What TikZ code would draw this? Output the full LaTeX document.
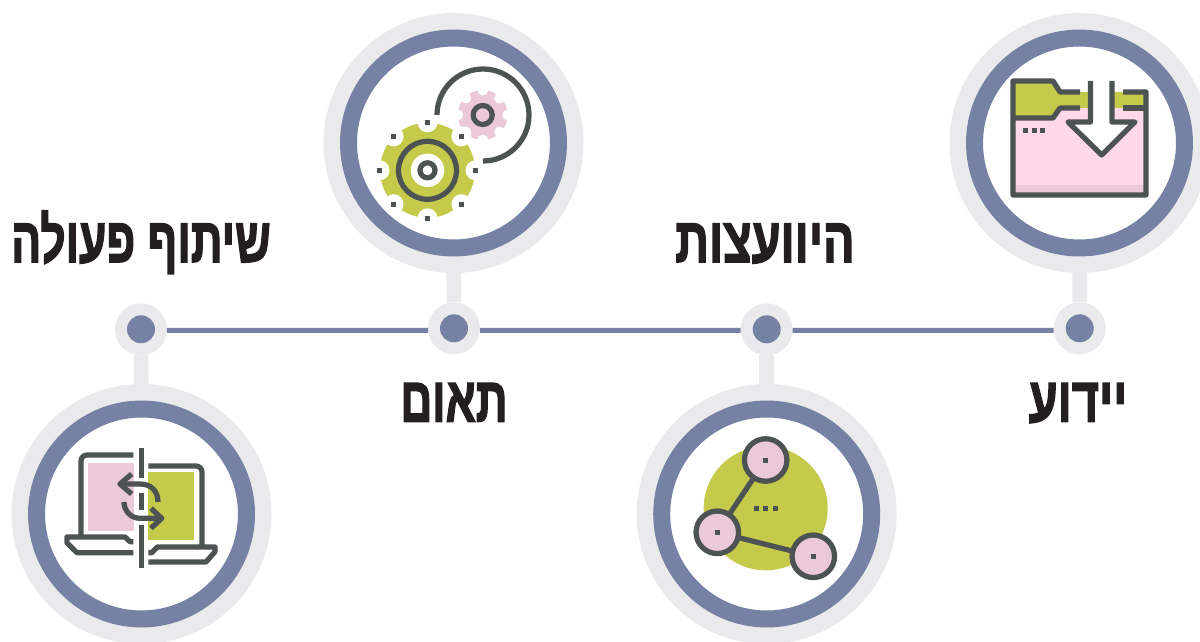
\documentclass[tikz,border=0pt]{standalone}
\usepackage{fontspec}
\usetikzlibrary{positioning}
\newfontfamily\hebfont[Script=Hebrew,FakeBold=2.5]{Liberation Sans Bold}
\TeXXeTstate=1
\definecolor{ringgray}{HTML}{EAEAEC}
\definecolor{ringblue}{HTML}{7582A3}
\definecolor{iconink}{HTML}{4D5353}
\definecolor{iconolive}{HTML}{C5CA4A}
\definecolor{iconpink}{HTML}{ECC9D8}
\definecolor{folderpink}{HTML}{FFD9EA}
\definecolor{labelink}{HTML}{231F20}
\tikzset{
  ringout/.style={circle,fill=ringgray,outer sep=0,inner sep=0,minimum size=5.2cm},
  ringin/.style={circle,fill=white,draw=ringblue,line width=0.34cm,outer sep=0,inner sep=0,minimum size=4.2cm},
  hubout/.style={circle,fill=ringgray,outer sep=0,inner sep=0,minimum size=1.04cm},
  hubin/.style={circle,fill=ringblue,outer sep=0,inner sep=0,minimum size=0.56cm},
  stem/.style={ringgray,line width=0.295cm},
  spine/.style={ringblue,line width=0.1cm},
  iconline/.style={iconink,line width=0.105cm,line join=round},
  peer/.style={circle,fill=iconpink,draw=iconink,line width=0.105cm,outer sep=0,inner sep=0,minimum size=0.85cm},
  steplabel/.style={text=labelink,anchor=base,transform shape,font=\hebfont\fontsize{36}{38}\selectfont},
}
\begin{document}
\begin{tikzpicture}[x=0.02cm,y=-0.02cm]
\useasboundingbox (0,0) rectangle (1200,642);
\clip (0,0) rectangle (1200,642);

% rings and hubs
\node[ringout] (informOut) at (1079.5,143) {};
\node[ringout] (syncOut) at (453.5,143) {};
\node[ringout] (consultOut) at (766.7,514) {};
\node[ringout] (shareOut) at (141.5,514) {};
\node[hubout] (informHub) at (1079.7,328.3) {};
\node[hubout] (syncHub) at (454,328.3) {};
\node[hubout] (consultHub) at (766.7,329.3) {};
\node[hubout] (shareHub) at (141,329.3) {};
\draw[stem] (informOut) -- (informHub);
\draw[stem] (syncOut) -- (syncHub);
\draw[stem] (consultOut) -- (consultHub);
\draw[stem] (shareOut) -- (shareHub);
\draw[spine] ([yshift=-0.04cm]informHub.west) -- ([yshift=-0.02cm]consultHub.east);
\draw[spine] ([yshift=-0.02cm]consultHub.west) -- ([yshift=-0.04cm]syncHub.east);
\draw[spine] ([yshift=-0.04cm]syncHub.west) -- ([yshift=-0.02cm]shareHub.east);
\node[hubin] (informDot) at (informHub) {};
\node[hubin] (syncDot) at (syncHub) {};
\node[hubin] (consultDot) at (consultHub) {};
\node[hubin] (shareDot) at (shareHub) {};
\node[ringin] (informIn) at (informOut) {};
\node[ringin] (syncIn) at (syncOut) {};
\node[ringin] (consultIn) at (consultOut) {};
\node[ringin] (shareIn) at (shareOut) {};

% labels
\node[steplabel,xscale=0.70] (shareText) at (141,262) {\beginR שיתוף פעולה\endR};
\node[steplabel,xscale=0.74] (consultText) at (765,262) {\beginR היוועצות\endR};
\node[steplabel,xscale=0.70] (syncText) at (454,421.5) {\beginR תאום\endR};
\node[steplabel,xscale=0.74] (informText) at (1078,421.5) {\beginR יידוע\endR};

% folder
\fill[folderpink] (1013,117) -- (1053,117) -- (1060,108) -- (1146,108) -- (1146,195) -- (1013,195) -- cycle;
\fill[iconpink] (1013,185) rectangle (1146,195);
\fill[iconolive] (1013,81) -- (1053,81) -- (1060,92) -- (1146,92) -- (1146,108) -- (1060,108) -- (1053,118) -- (1013,118) -- cycle;
\fill[white] (1090.5,80) -- (1090.5,122) -- (1068,122) -- (1101.7,155) -- (1135,122) -- (1112,122) -- (1112,80) -- cycle;
\draw[iconline] (1080,92) -- (1060,92) -- (1053,81) -- (1013,81) -- (1013,195) -- (1146,195) -- (1146,92) -- (1123,92);
\draw[iconline] (1080,108) -- (1060,108) -- (1053,118) -- (1013,118);
\draw[iconline] (1123,108) -- (1146,108);
\draw[iconline] (1090.5,81) -- (1090.5,122) -- (1068,122) -- (1101.7,155) -- (1135,122) -- (1112,122) -- (1112,81);
\fill[iconink] (1023,127.7) rectangle +(5,5);
\fill[iconink] (1032,127.7) rectangle +(5,5);
\fill[iconink] (1040.4,127.7) rectangle +(5,5);

% gears
\draw[iconline] (437,115) arc[start angle=180,end angle=450,radius=46];
\fill[iconpink] (482.7,115) circle (25);
\fill[white] (507.7,115) circle (5.5);
\fill[white] (499.7,132) circle (5.5);
\fill[white] (482.7,140) circle (5.5);
\fill[white] (465.7,132) circle (5.5);
\fill[white] (457.7,115) circle (5.5);
\fill[white] (465.7,98) circle (5.5);
\fill[white] (482.7,90) circle (5.5);
\fill[white] (499.7,98) circle (5.5);
\draw[iconline] (482.7,115) circle (9.5);
\fill[iconolive] (427.5,170.3) circle (47.5);
\fill[white] (475.5,170.3) circle (10);
\fill[white] (461.4,136.4) circle (10);
\fill[white] (427.5,122.3) circle (10);
\fill[white] (393.6,136.4) circle (10);
\fill[white] (379.5,170.3) circle (10);
\fill[white] (393.6,204.2) circle (10);
\fill[white] (427.5,218.3) circle (10);
\fill[white] (461.4,204.2) circle (10);
\fill[iconink] (473,167.8) rectangle +(5,5);
\fill[iconink] (458.9,133.9) rectangle +(5,5);
\fill[iconink] (425,119.8) rectangle +(5,5);
\fill[iconink] (391.1,133.9) rectangle +(5,5);
\fill[iconink] (377,167.8) rectangle +(5,5);
\fill[iconink] (391.1,201.7) rectangle +(5,5);
\fill[iconink] (425,215.8) rectangle +(5,5);
\fill[iconink] (458.9,201.7) rectangle +(5,5);
\draw[iconline] (427.5,170.3) circle (29);
\fill[white] (427.5,170.3) circle (16.7);
\draw[iconline] (427.5,170.3) circle (7.5);

% laptops
\fill[iconpink] (88,462.7) rectangle (134,531);
\fill[iconolive] (147.7,471.7) rectangle (194,540);
\draw[iconline,rounded corners=0.12cm] (133.3,455) -- (81,455) -- (81,535);
\draw[iconline] (133.3,541.7) -- (130,541.7) -- (125,537) -- (67,537) -- (67,543) -- (77,552.7) -- (133.3,552.7);
\draw[iconline,rounded corners=0.12cm] (148.3,466) -- (202,466) -- (202,545);
\draw[iconline] (148.3,552.7) -- (151.7,552.7) -- (157.3,547) -- (215,547) -- (215,551.7) -- (206,562) -- (148.3,562);
\draw[iconline] (131.7,474) -- (120,484) -- (131.7,494);
\draw[iconline] (120,484) -- (140,484) .. controls (151,484) and (158,491) .. (158,502);
\draw[iconline] (151,508.3) -- (161.7,518.3) -- (151,528.3);
\draw[iconline] (124,502) .. controls (124,511) and (131,518.3) .. (140,518.3) -- (161.7,518.3);
\draw[iconink,line width=0.11cm] (141.7,448.3) -- (141.7,478);
\draw[iconink,line width=0.11cm] (141.7,493) -- (141.7,510);
\draw[iconink,line width=0.11cm] (141.7,525) -- (141.7,568);

% network
\fill[iconolive] (765.7,508.3) circle (62);
\node[peer] (peerTop) at (765.7,460) {};
\node[peer] (peerLeft) at (717.3,532.3) {};
\node[peer] (peerRight) at (813.3,556.3) {};
\draw[iconline] (peerTop) -- (peerLeft);
\draw[iconline] (peerLeft) -- (peerRight);
\fill[iconink] (763.2,457.5) rectangle +(5,5);
\fill[iconink] (714.8,529.8) rectangle +(5,5);
\fill[iconink] (810.8,553.8) rectangle +(5,5);
\fill[iconink] (753.8,505.8) rectangle +(5,5);
\fill[iconink] (763.2,505.8) rectangle +(5,5);
\fill[iconink] (773.2,505.8) rectangle +(5,5);

\end{tikzpicture}
\end{document}
